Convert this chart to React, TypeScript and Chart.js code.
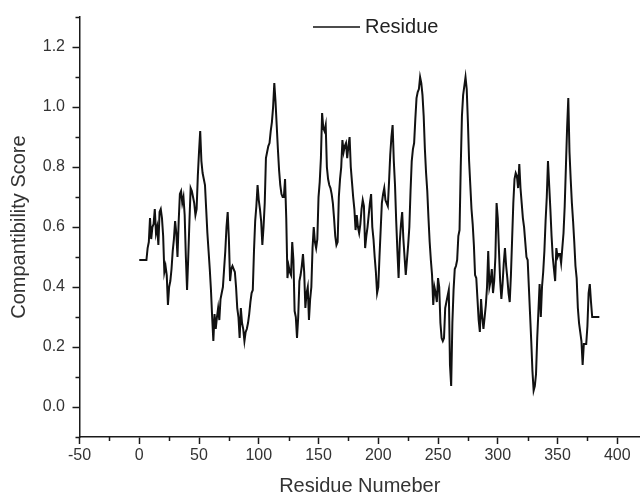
import React, { useEffect, useRef } from "react";
import { Chart, registerables } from "chart.js";

Chart.register(...registerables);

const SERIES_LABEL = "Residue";
const X_TITLE = "Residue Numeber";
const Y_TITLE = "Compantibility Score";

const residues: number[] = [
  0, 3, 6, 7, 8, 9, 10, 11, 12, 13, 14, 15, 16, 17, 18, 19, 20, 21, 22, 23, 24, 25, 26, 27, 28, 29,
  30, 31, 32, 33, 34, 35, 36, 37, 38, 39, 40, 41, 42, 43, 44, 45, 46, 47, 48, 49, 50, 51, 52, 53, 54,
  55, 56, 57, 58, 59, 60, 61, 62, 63, 64, 65, 66, 67, 68, 69, 70, 71, 72, 73, 74, 75, 76, 77, 78, 79,
  80, 81, 82, 83, 84, 85, 86, 87, 88, 89, 90, 91, 92, 93, 94, 95, 96, 97, 98, 99, 100, 101, 102, 103,
  104, 105, 106, 107, 108, 109, 110, 111, 112, 113, 114, 115, 116, 117, 118, 119, 120, 121, 122, 123,
  124, 125, 126, 127, 128, 129, 130, 131, 132, 133, 134, 135, 136, 137, 138, 139, 140, 141, 142, 143,
  144, 145, 146, 147, 148, 149, 150, 151, 152, 153, 154, 155, 156, 157, 158, 159, 160, 161, 162, 163,
  164, 165, 166, 167, 168, 169, 170, 171, 172, 173, 174, 175, 176, 177, 178, 179, 180, 181, 182, 183,
  184, 185, 186, 187, 188, 189, 190, 191, 192, 193, 194, 195, 196, 197, 198, 199, 200, 201, 202, 203,
  204, 205, 206, 207, 208, 209, 210, 211, 212, 213, 214, 215, 216, 217, 218, 219, 220, 221, 222, 223,
  224, 225, 226, 227, 228, 229, 230, 231, 232, 233, 234, 235, 236, 237, 238, 239, 240, 241, 242, 243,
  244, 245, 246, 247, 248, 249, 250, 251, 252, 253, 254, 255, 256, 257, 258, 259, 260, 261, 262, 263,
  264, 265, 266, 267, 268, 269, 270, 271, 272, 273, 274, 275, 276, 277, 278, 279, 280, 281, 282, 283,
  284, 285, 286, 287, 288, 289, 290, 291, 292, 293, 294, 295, 296, 297, 298, 299, 300, 301, 302, 303,
  304, 305, 306, 307, 308, 309, 310, 311, 312, 313, 314, 315, 316, 317, 318, 319, 320, 321, 322, 323,
  324, 325, 326, 327, 328, 329, 330, 331, 332, 333, 334, 335, 336, 337, 338, 339, 340, 341, 342, 343,
  344, 345, 346, 347, 348, 349, 350, 351, 352, 353, 354, 355, 356, 357, 358, 359, 360, 361, 362, 363,
  364, 365, 366, 367, 368, 369, 370, 371, 372, 373, 374, 375, 376, 377, 378, 379, 380, 385,
];

const scores: number[] = [
  0.49, 0.49, 0.49, 0.53, 0.55, 0.63, 0.56, 0.6, 0.61, 0.66, 0.58, 0.6, 0.54, 0.65, 0.66, 0.63, 0.57, 0.45, 0.47, 0.44, 0.34, 0.4, 0.42, 0.46, 0.52, 0.56,
  0.62, 0.58, 0.5, 0.62, 0.71, 0.72, 0.68, 0.7, 0.64, 0.5, 0.39, 0.5, 0.62, 0.73, 0.72, 0.7, 0.68, 0.64, 0.66, 0.77, 0.85, 0.92, 0.82, 0.78, 0.76,
  0.74, 0.66, 0.58, 0.52, 0.46, 0.39, 0.3, 0.22, 0.31, 0.26, 0.3, 0.33, 0.29, 0.36, 0.38, 0.4, 0.46, 0.52, 0.6, 0.65, 0.56, 0.42, 0.46, 0.47, 0.46,
  0.45, 0.4, 0.33, 0.3, 0.23, 0.33, 0.28, 0.26, 0.22, 0.25, 0.26, 0.28, 0.31, 0.35, 0.38, 0.39, 0.52, 0.62, 0.67, 0.74, 0.69, 0.66, 0.62, 0.54,
  0.6, 0.68, 0.83, 0.85, 0.87, 0.88, 0.92, 0.95, 1.0, 1.08, 1.02, 0.94, 0.86, 0.79, 0.74, 0.71, 0.7, 0.7, 0.76, 0.63,
  0.43, 0.47, 0.45, 0.44, 0.55, 0.49, 0.32, 0.3, 0.23, 0.3, 0.42, 0.44, 0.47, 0.51, 0.45, 0.33, 0.38, 0.4, 0.29, 0.36,
  0.4, 0.53, 0.6, 0.55, 0.53, 0.56, 0.7, 0.75, 0.83, 0.98, 0.93, 0.92, 0.94, 0.8, 0.76, 0.74, 0.73, 0.71, 0.68, 0.63,
  0.57, 0.54, 0.55, 0.7, 0.76, 0.8, 0.89, 0.85, 0.87, 0.88, 0.83, 0.87, 0.9, 0.8, 0.75, 0.7, 0.66, 0.59, 0.64, 0.6,
  0.58, 0.61, 0.66, 0.69, 0.67, 0.53, 0.57, 0.6, 0.64, 0.68, 0.71, 0.6, 0.56, 0.5, 0.45, 0.38, 0.4, 0.5, 0.59, 0.68,
  0.71, 0.73, 0.69, 0.68, 0.67, 0.75, 0.84, 0.9, 0.94, 0.82, 0.74, 0.62, 0.52, 0.43, 0.55, 0.61, 0.65, 0.56, 0.5, 0.44,
  0.49, 0.54, 0.6, 0.72, 0.82, 0.86, 0.88, 0.96, 1.03, 1.05, 1.06, 1.1, 1.08, 1.04, 0.97, 0.86, 0.78, 0.72, 0.63, 0.55,
  0.49, 0.44, 0.34, 0.4, 0.38, 0.35, 0.43, 0.4, 0.28, 0.23, 0.22, 0.23, 0.33, 0.35, 0.37, 0.39, 0.14, 0.07, 0.28, 0.39,
  0.46, 0.47, 0.49, 0.57, 0.59, 0.8, 0.97, 1.04, 1.07, 1.1, 1.06, 0.95, 0.82, 0.74, 0.66, 0.61, 0.54, 0.44, 0.43, 0.36,
  0.29, 0.25, 0.36, 0.3, 0.26, 0.3, 0.34, 0.4, 0.52, 0.4, 0.42, 0.46, 0.38, 0.42, 0.5, 0.68, 0.63, 0.52, 0.42, 0.36,
  0.41, 0.48, 0.53, 0.47, 0.43, 0.38, 0.35, 0.44, 0.56, 0.68, 0.76, 0.78, 0.77, 0.73, 0.81, 0.73, 0.68, 0.63, 0.6, 0.55,
  0.5, 0.49, 0.4, 0.31, 0.22, 0.12, 0.055, 0.07, 0.11, 0.23, 0.32, 0.41, 0.3, 0.4, 0.45, 0.52, 0.62, 0.7, 0.82, 0.74,
  0.66, 0.57, 0.5, 0.46, 0.42, 0.53, 0.5, 0.51, 0.51, 0.48, 0.53, 0.58, 0.67, 0.8, 0.93, 1.03, 0.85, 0.76, 0.68, 0.62,
  0.55, 0.47, 0.43, 0.33, 0.28, 0.25, 0.22, 0.14, 0.21, 0.21, 0.21, 0.27, 0.38, 0.41, 0.35, 0.3, 0.3, 0.3,
];

const X_MIN = -50;
const X_MAX = 419;
const Y_MIN = -0.1;
const Y_MAX = 1.3;
const X_MAJOR = [-50, 0, 50, 100, 150, 200, 250, 300, 350, 400];
const X_MINOR = [-25, 25, 75, 125, 175, 225, 275, 325, 375];
const Y_MAJOR = [0, 0.2, 0.4, 0.6, 0.8, 1.0, 1.2];
const Y_MINOR = [-0.1, 0.1, 0.3, 0.5, 0.7, 0.9, 1.1, 1.3];

const FONT = "'Liberation Sans', Arial, Helvetica, sans-serif";
const AXIS_COLOR = "#1a1a1a";
const TEXT_COLOR = "#333333";
const LINE_COLOR = "#111111";

const decorPlugin = {
  id: "decor",
  afterDraw(chart: any) {
    const ctx = chart.ctx as CanvasRenderingContext2D;
    const xs = chart.scales.x;
    const ys = chart.scales.y;
    const area = chart.chartArea;
    ctx.save();
    ctx.strokeStyle = AXIS_COLOR;
    ctx.lineWidth = 1.5;
    ctx.beginPath();
    X_MINOR.forEach((v) => {
      const px = Math.round(xs.getPixelForValue(v)) + 0.5;
      ctx.moveTo(px, area.bottom);
      ctx.lineTo(px, area.bottom + 4);
    });
    Y_MINOR.forEach((v) => {
      const py = Math.round(ys.getPixelForValue(v)) + 0.5;
      ctx.moveTo(area.left, py);
      ctx.lineTo(area.left - 4, py);
    });
    ctx.stroke();

    // legend
    const ds = chart.data.datasets[0];
    const lx = 313;
    const ly = 27;
    ctx.strokeStyle = LINE_COLOR;
    ctx.lineWidth = 1.5;
    ctx.beginPath();
    ctx.moveTo(lx, ly);
    ctx.lineTo(lx + 47, ly);
    ctx.stroke();
    ctx.fillStyle = "#222222";
    ctx.font = `20px ${FONT}`;
    ctx.textBaseline = "middle";
    ctx.textAlign = "left";
    ctx.fillText(ds.label, lx + 52, ly);
    ctx.restore();
  },
};

export default function App() {
  const canvasRef = useRef<HTMLCanvasElement | null>(null);

  useEffect(() => {
    if (!canvasRef.current) return;
    const points = residues.map((r, i) => ({ x: r, y: scores[i] }));
    const chart = new Chart(canvasRef.current, {
      type: "line",
      data: {
        datasets: [
          {
            label: SERIES_LABEL,
            data: points,
            borderColor: LINE_COLOR,
            backgroundColor: LINE_COLOR,
            borderWidth: 2,
            pointRadius: 0,
            tension: 0,
            fill: false,
          },
        ],
      },
      options: {
        animation: false,
        responsive: false,
        layout: { padding: { top: 14, left: 0, right: 0, bottom: 0 } },
        plugins: {
          legend: { display: false },
          tooltip: { enabled: false },
        },
        scales: {
          x: {
            type: "linear",
            min: X_MIN,
            max: X_MAX,
            afterBuildTicks: (scale: any) => {
              scale.ticks = X_MAJOR.map((v) => ({ value: v }));
            },
            afterFit: (scale: any) => {
              scale.height = 59;
            },
            grid: {
              display: true,
              drawOnChartArea: false,
              drawTicks: true,
              tickLength: 7,
              tickColor: AXIS_COLOR,
              tickWidth: 1.5,
            },
            border: { display: true, color: AXIS_COLOR, width: 1.5 },
            ticks: {
              padding: 2,
              color: TEXT_COLOR,
              font: { family: FONT, size: 16 },
              maxRotation: 0,
              callback: (v: any) => String(v),
            },
            title: {
              display: true,
              text: X_TITLE,
              color: TEXT_COLOR,
              font: { family: FONT, size: 20 },
              padding: { top: 0, bottom: -2 },
            },
          },
          y: {
            type: "linear",
            min: Y_MIN,
            max: Y_MAX,
            afterBuildTicks: (scale: any) => {
              scale.ticks = Y_MAJOR.map((v) => ({ value: v }));
            },
            afterFit: (scale: any) => {
              scale.width = 79.5;
            },
            grid: {
              display: true,
              drawOnChartArea: false,
              drawTicks: true,
              tickLength: 7,
              tickColor: AXIS_COLOR,
              tickWidth: 1.5,
            },
            border: { display: true, color: AXIS_COLOR, width: 1.5 },
            ticks: {
              padding: 7.5,
              color: TEXT_COLOR,
              font: { family: FONT, size: 16 },
              callback: (v: any) => Number(v).toFixed(1),
            },
            title: {
              display: true,
              text: Y_TITLE,
              color: TEXT_COLOR,
              font: { family: FONT, size: 20 },
              padding: { top: 7.6, bottom: 0 },
            },
          },
        },
      },
      plugins: [decorPlugin],
    });
    return () => chart.destroy();
  }, []);

  return (
    <div style={{ position: "absolute", left: 0, top: 0, width: 640, height: 496 }}>
      <canvas ref={canvasRef} width={640} height={496} style={{ display: "block" }} />
    </div>
  );
}
